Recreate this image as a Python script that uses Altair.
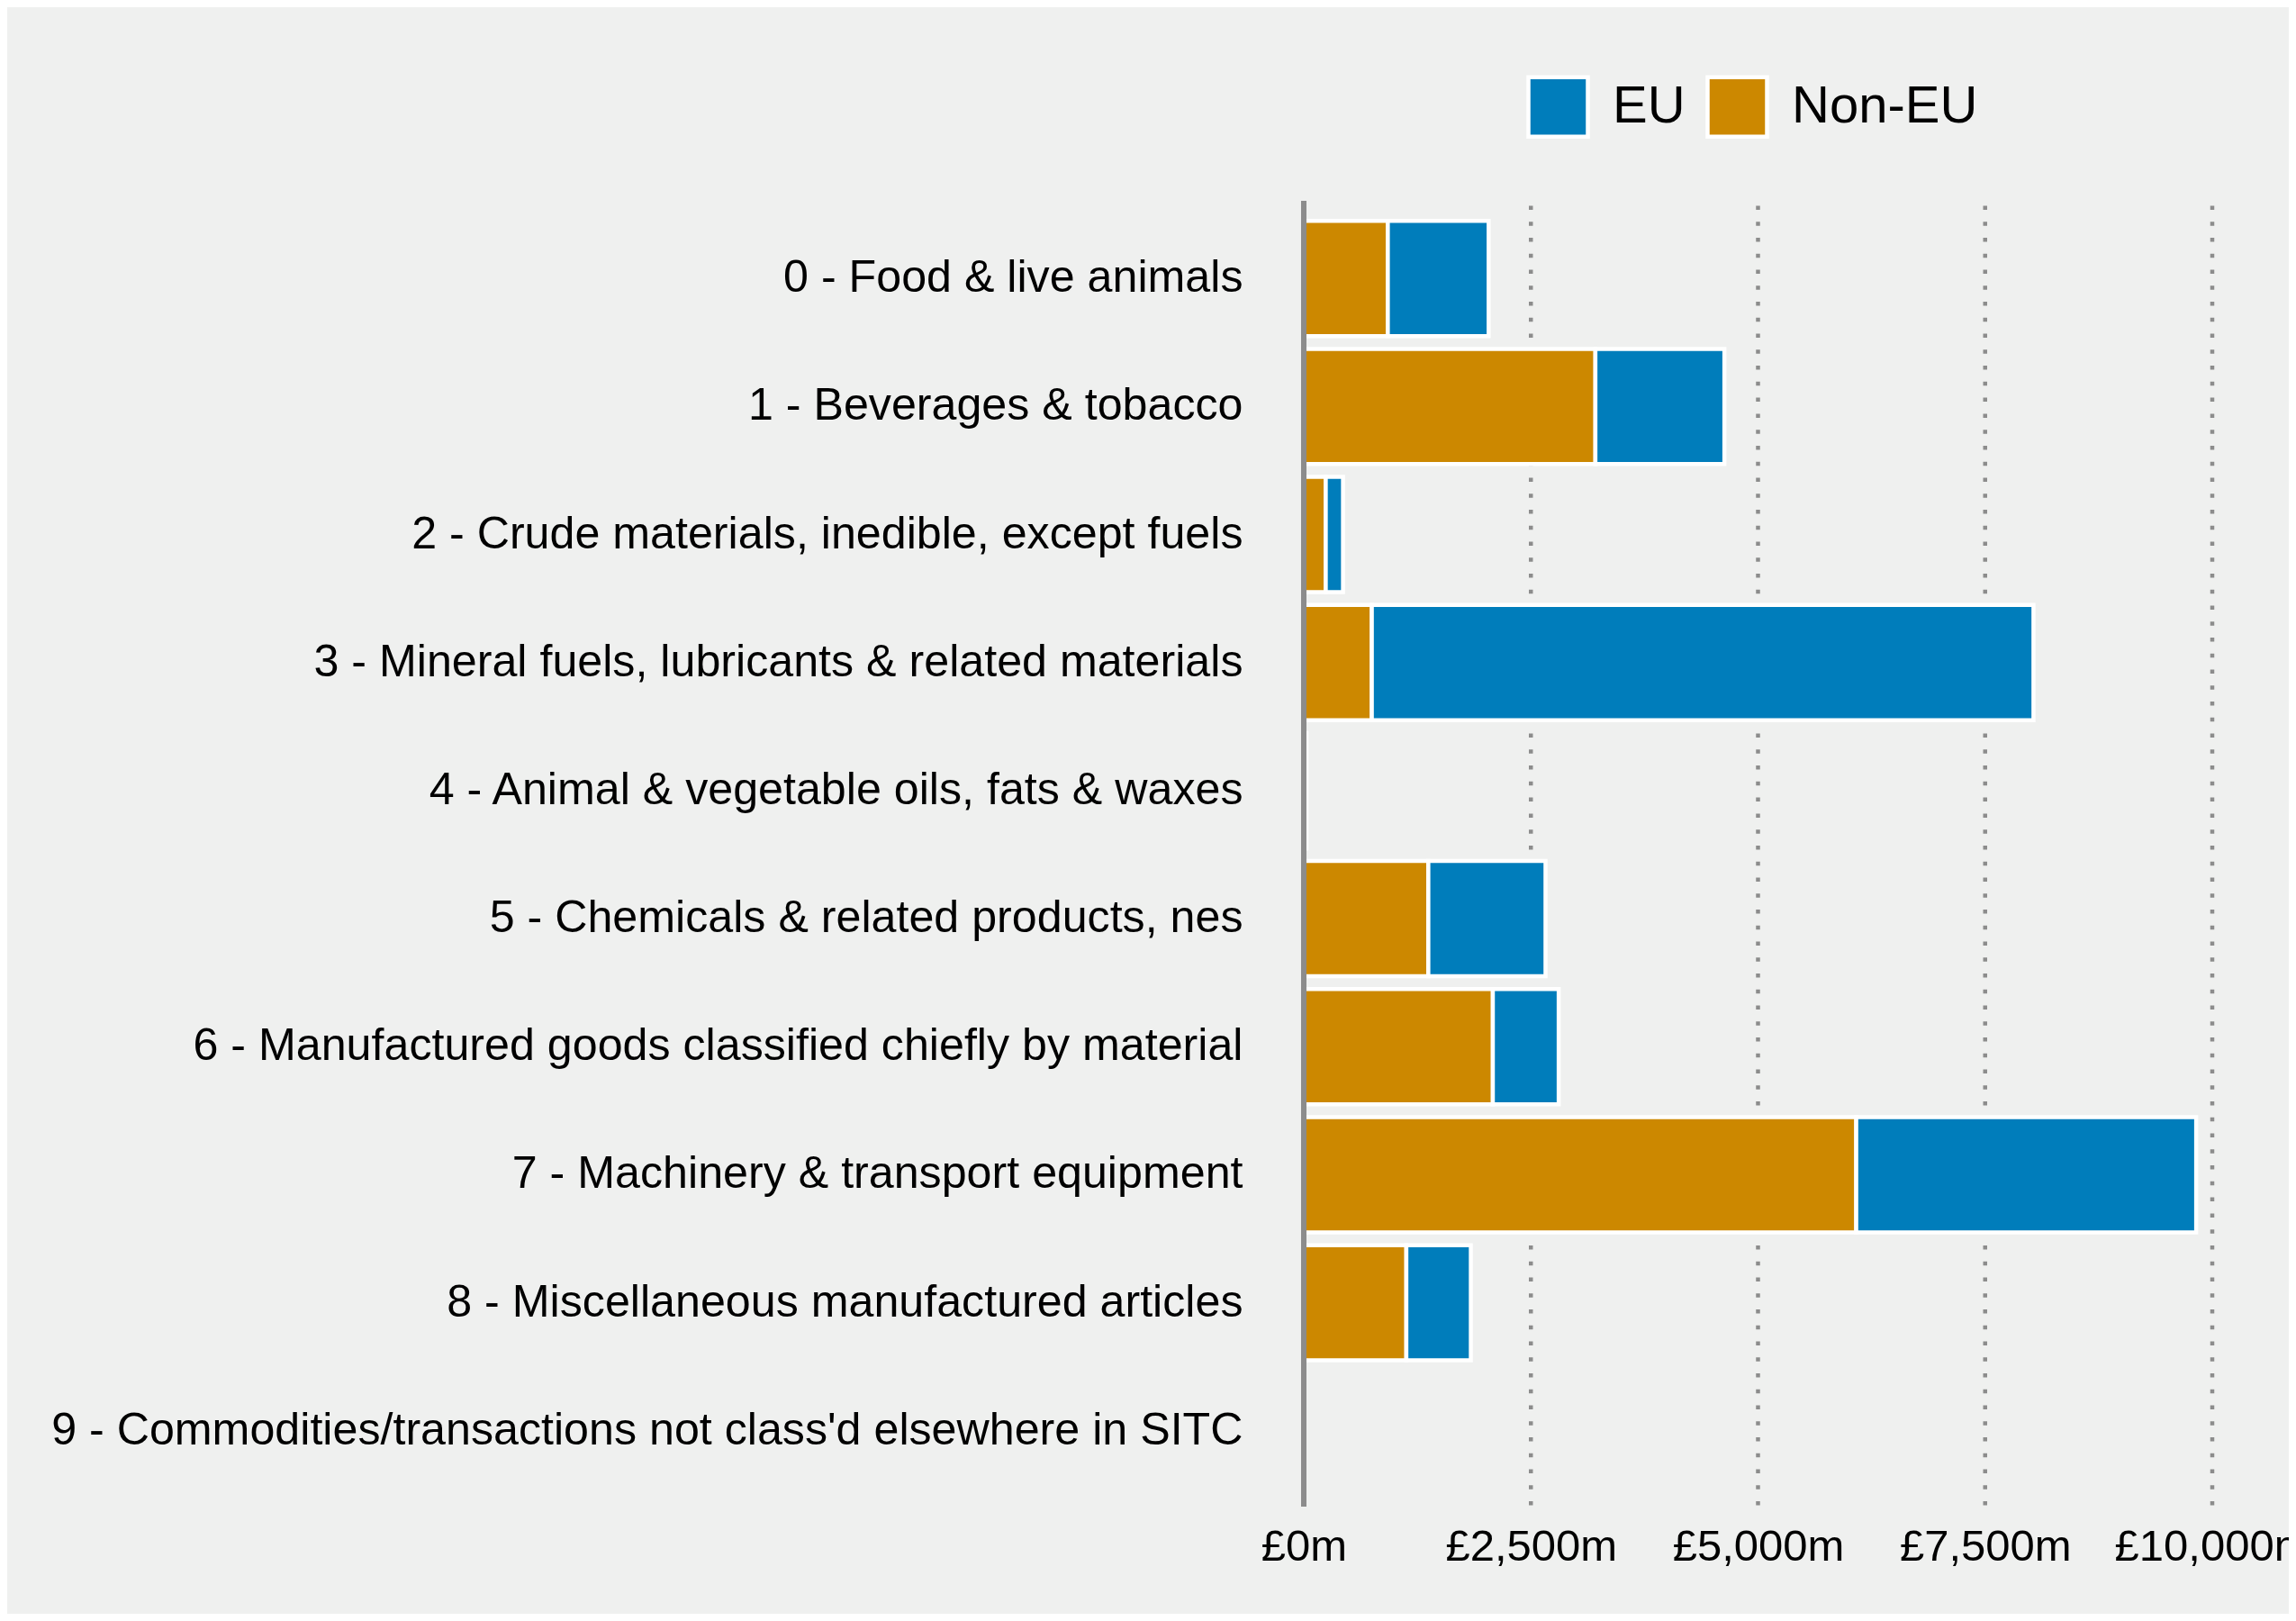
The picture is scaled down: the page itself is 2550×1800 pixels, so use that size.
import altair as alt
import pandas as pd

categories = [
    "0 - Food & live animals",
    "1 - Beverages & tobacco",
    "2 - Crude materials, inedible, except fuels",
    "3 - Mineral fuels, lubricants & related materials",
    "4 - Animal & vegetable oils, fats & waxes",
    "5 - Chemicals & related products, nes",
    "6 - Manufactured goods classified chiefly by material",
    "7 - Machinery & transport equipment",
    "8 - Miscellaneous manufactured articles",
    "9 - Commodities/transactions not class'd elsewhere in SITC",
]
non_eu = [925, 3210, 242, 749, 20, 1371, 2081, 6081, 1129, 0]
eu = [1110, 1420, 190, 7283, 10, 1290, 725, 3742, 710, 0]
x_ticks = [0, 2500, 5000, 7500, 10000]

rows = []
for c, n, e in zip(categories, non_eu, eu):
    if n > 0:
        rows.append({"category": c, "region": "Non-EU", "value": n, "ord": 0})
    if e > 0:
        rows.append({"category": c, "region": "EU", "value": e, "ord": 1})
df = pd.DataFrame(rows)
grid_df = pd.DataFrame({"tick": x_ticks[1:]})

FONT = "Liberation Sans"
GREY = "#8C8C8C"
H = 1450

x_scale = alt.Scale(domain=[0, 10000], nice=False)

grid = (
    alt.Chart(grid_df)
    .mark_rule(color=GREY, strokeWidth=4.5, strokeDash=[4.5, 13.26], strokeDashOffset=12.26)
    .encode(x=alt.X("tick:Q", scale=x_scale), y=alt.value(0), y2=alt.value(H))
)

bars = (
    alt.Chart(df)
    .mark_bar(stroke="white", strokeWidth=4.5)
    .encode(
        y=alt.Y(
            "category:N",
            sort=categories,
            scale=alt.Scale(domain=categories, paddingInner=0.1, paddingOuter=0.1, range=[8, 1444]),
            axis=alt.Axis(
                title=None,
                ticks=False,
                labelFontSize=50.2,
                labelFont=FONT,
                labelColor="black",
                labelPadding=68,
                labelLimit=3000,
                domain=False,
                grid=False,
            ),
        ),
        x=alt.X(
            "value:Q",
            stack="zero",
            scale=x_scale,
            axis=alt.Axis(
                title=None,
                values=x_ticks,
                labelExpr="'£' + format(datum.value, ',') + 'm'",
                ticks=False,
                domain=False,
                grid=False,
                labelFontSize=49,
                labelFont=FONT,
                labelColor="black",
                labelPadding=20,
                labelFlush=False,
                labelLimit=1000,
                labelOverlap=False,
                labelBound=False,
            ),
        ),
        color=alt.Color(
            "region:N",
            scale=alt.Scale(domain=["EU", "Non-EU"], range=["#007DBB", "#CC8800"]),
            legend=alt.Legend(
                title=None,
                orient="none",
                legendX=247,
                legendY=-140,
                direction="horizontal",
                symbolType="square",
                symbolSize=4356,
                symbolStrokeColor="white",
                symbolStrokeWidth=4.5,
                symbolOpacity=1,
                labelFontSize=58,
                labelFont=FONT,
                labelColor="black",
                labelOffset=25,
                labelLimit=1000,
                columnPadding=15,
                padding=0,
            ),
        ),
        order=alt.Order("ord:Q"),
    )
)

zero_line = alt.Chart(df).mark_rule(color=GREY, strokeWidth=4.5).encode(x=alt.datum(0))

chart = (
    alt.layer(grid, bars, zero_line)
    .properties(
        width=1009,
        height=H,
        autosize=alt.AutoSizeParams(type="none"),
        padding={"left": 1440, "top": 215, "right": 85, "bottom": 119},
        background="#EFF0EF",
    )
    .configure_view(stroke=None)
)

chart.save("out.html", embed_options={"renderer": "svg", "actions": False})
